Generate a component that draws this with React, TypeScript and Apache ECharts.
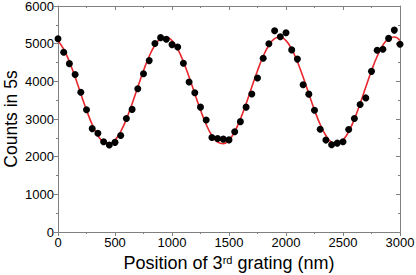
import React, { useEffect, useRef } from "react";
import * as echarts from "echarts";

const positions = [
  0, 50, 100, 150, 200, 250, 300, 350, 400, 450,
  500, 550, 600, 650, 700, 750, 800, 850, 900, 950,
  1000, 1050, 1100, 1150, 1200, 1250, 1300, 1350, 1400, 1450,
  1500, 1550, 1600, 1650, 1700, 1750, 1800, 1850, 1900, 1950,
  2000, 2050, 2100, 2150, 2200, 2250, 2300, 2350, 2400, 2450,
  2500, 2550, 2600, 2650, 2700, 2750, 2800, 2850, 2900, 2950,
  3000,
];

const counts = [
  5130, 4770, 4470, 4180, 3710, 3245, 2745, 2620, 2395, 2310,
  2380, 2560, 3015, 3255, 3805, 4200, 4550, 5005, 5160, 5115,
  4975, 4910, 4480, 3980, 3695, 3315, 2975, 2510, 2480, 2465,
  2445, 2660, 2930, 3315, 3665, 4090, 4615, 5000, 5345, 5185,
  5290, 4835, 4590, 3910, 3660, 3230, 2730, 2440, 2315, 2360,
  2395, 2720, 3015, 3385, 3560, 4265, 4825, 4850, 5140, 5360,
  4985,
];

const fitValues = [
  5080, 4855, 4521, 4113, 3671, 3237, 2855, 2561, 2384, 2343,
  2440, 2665, 2999, 3407, 3849, 4283, 4665, 4959, 5136, 5177,
  5080, 4855, 4521, 4113, 3671, 3237, 2855, 2561, 2384, 2343,
  2440, 2665, 2999, 3407, 3849, 4283, 4665, 4959, 5136, 5177,
  5080, 4855, 4521, 4113, 3671, 3237, 2855, 2561, 2384, 2343,
  2440, 2665, 2999, 3407, 3849, 4283, 4665, 4959, 5136, 5177,
  5080,
];

const X_TITLE = "Position of 3{sup|rd} grating (nm)";
const Y_TITLE = "Counts in 5s";

export default function App() {
  const ref = useRef<HTMLDivElement>(null);
  useEffect(() => {
    if (!ref.current) return;
    const chart = echarts.init(ref.current, null, { renderer: "svg" });
    const font = "Liberation Sans, Arial, Helvetica, sans-serif";
    const axisColor = "#808080";
    const fmt = (v: number) => String(v);
    const common = {
      min: 0,
      axisLine: { show: true, onZero: false, lineStyle: { color: axisColor, width: 1 } },
      splitLine: { show: false },
      minorTick: { show: true, splitNumber: 2, length: 2, lineStyle: { color: axisColor } },
    };
    chart.setOption({
      animation: false,
      backgroundColor: "#fff",
      grid: { left: 58, right: 16, top: 6, bottom: 43, containLabel: false, outerBoundsMode: "none" },
      xAxis: [
        {
          ...common,
          type: "value",
          max: 3000,
          interval: 500,
          position: "bottom",
          axisTick: { show: true, inside: false, length: 4, lineStyle: { color: axisColor } },
          axisLabel: { color: "#000", fontSize: 13, fontFamily: font, margin: 4, formatter: fmt },
          name: X_TITLE,
          nameLocation: "middle",
          nameGap: 22,
          nameMoveOverlap: false,
          nameTextStyle: {
            color: "#000",
            fontSize: 18,
            fontFamily: font,
            rich: {
              sup: { fontSize: 11, fontFamily: font, color: "#000", verticalAlign: "top", lineHeight: 10 },
            },
          },
        },
        {
          ...common,
          type: "value",
          max: 3000,
          interval: 500,
          position: "top",
          axisTick: { show: true, inside: true, length: 4, lineStyle: { color: axisColor } },
          axisLabel: { show: false },
        },
      ],
      yAxis: [
        {
          ...common,
          type: "value",
          max: 6000,
          interval: 1000,
          position: "left",
          axisTick: { show: true, inside: false, length: 4, lineStyle: { color: axisColor } },
          axisLabel: { color: "#000", fontSize: 13, fontFamily: font, margin: 4, formatter: fmt },
          name: Y_TITLE,
          nameLocation: "middle",
          nameGap: 38,
          nameMoveOverlap: false,
          nameTextStyle: { color: "#000", fontSize: 17.5, fontFamily: font },
        },
        {
          ...common,
          type: "value",
          max: 6000,
          interval: 1000,
          position: "right",
          axisTick: { show: true, inside: true, length: 4, lineStyle: { color: axisColor } },
          axisLabel: { show: false },
        },
      ],
      series: [
        {
          type: "line",
          data: positions.map((x, i) => [x, fitValues[i]]),
          smooth: 0.5,
          showSymbol: false,
          symbol: "none",
          lineStyle: { color: "#e8262b", width: 1.6 },
          z: 1,
        },
        {
          type: "scatter",
          data: positions.map((x, i) => [x, counts[i]]),
          symbol: "circle",
          symbolSize: 7,
          itemStyle: { color: "#000", opacity: 1 },
          clip: false,
          z: 2,
        },
      ],
    });
    return () => chart.dispose();
  }, []);
  return (
    <div
      ref={ref}
      style={{ position: "absolute", left: 0, top: 0, width: 416, height: 275 }}
    />
  );
}
